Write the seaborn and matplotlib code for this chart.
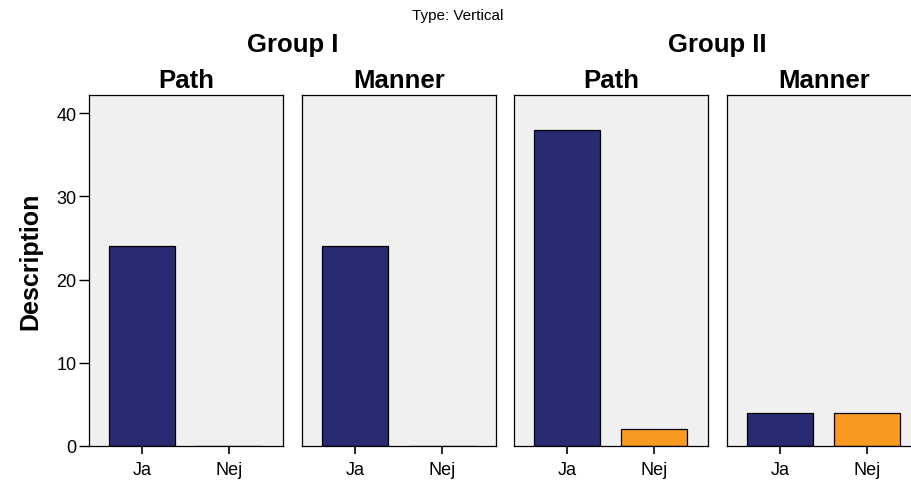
import pandas as pd
import numpy as np
import seaborn as sns
import matplotlib.pyplot as plt

# values
groups = ['Group I', 'Group I', 'Group II', 'Group II']
motion = ['Path', 'Manner', 'Path', 'Manner']
answers = ['Ja', 'Nej']
ja_counts = [24, 24, 38, 4]
nej_counts = [0, 0, 2, 4]

colors = {'Ja': '#282A72', 'Nej': '#F79A1F'}

rows = []
for g, m, ja, nej in zip(groups, motion, ja_counts, nej_counts):
    rows.append({'group': g, 'motion': m, 'answer': 'Ja', 'count': ja})
    rows.append({'group': g, 'motion': m, 'answer': 'Nej', 'count': nej})
df = pd.DataFrame(rows)

sns.set_style('white')
plt.rcParams['font.family'] = ['Liberation Sans', 'DejaVu Sans']
plt.rcParams['text.color'] = 'black'
plt.rcParams['axes.labelcolor'] = 'black'
plt.rcParams['xtick.color'] = 'black'
plt.rcParams['ytick.color'] = 'black'

fig = plt.figure(figsize=(9.12, 4.81), dpi=100)
W, H = 912.0, 481.0
lefts = [89, 302, 514, 727]
top, bottom, width = 96, 447, 194

for i, (g, m) in enumerate(zip(groups, motion)):
    ax = fig.add_axes([lefts[i] / W, (H - bottom) / H, width / W, (bottom - top) / H])
    sub = df[(df['group'] == g) & (df['motion'] == m)]
    sns.barplot(data=sub, x='answer', y='count', hue='answer', order=answers,
                hue_order=answers, palette=colors, saturation=1, width=0.76,
                edgecolor='black', linewidth=0.9, legend=False, ax=ax)
    ax.set_facecolor('#F0F0F0')
    ax.set_xlim(-0.61, 1.62)
    ax.set_ylim(0, 42.2)
    ax.set_xlabel('')
    ax.set_title(m, fontsize=18.5, fontweight='bold', pad=6, color='black')
    for s in ax.spines.values():
        s.set_color('black')
        s.set_linewidth(0.9)
    ax.tick_params(axis='x', length=6, width=1.2, labelsize=13, pad=5, direction='out', bottom=True)
    if i == 0:
        ax.set_yticks([0, 10, 20, 30, 40])
        ax.tick_params(axis='y', length=7, width=1, labelsize=13, pad=2, direction='out', left=True)
        ax.set_ylabel('Description', fontsize=18, fontweight='bold')
        ax.yaxis.set_label_coords(-0.238, 0.53)
    else:
        ax.set_yticks([])
        ax.set_ylabel('')

fig.text(292.5 / W, 1 - 45 / H, 'Group I', ha='center', va='center', fontsize=18.5, fontweight='bold')
fig.text(717.5 / W, 1 - 45 / H, 'Group II', ha='center', va='center', fontsize=18.5, fontweight='bold')
fig.text(458 / W, 1 - 16 / H, 'Type: Vertical', ha='center', va='center', fontsize=11)

fig.savefig('out.png', dpi=100)
